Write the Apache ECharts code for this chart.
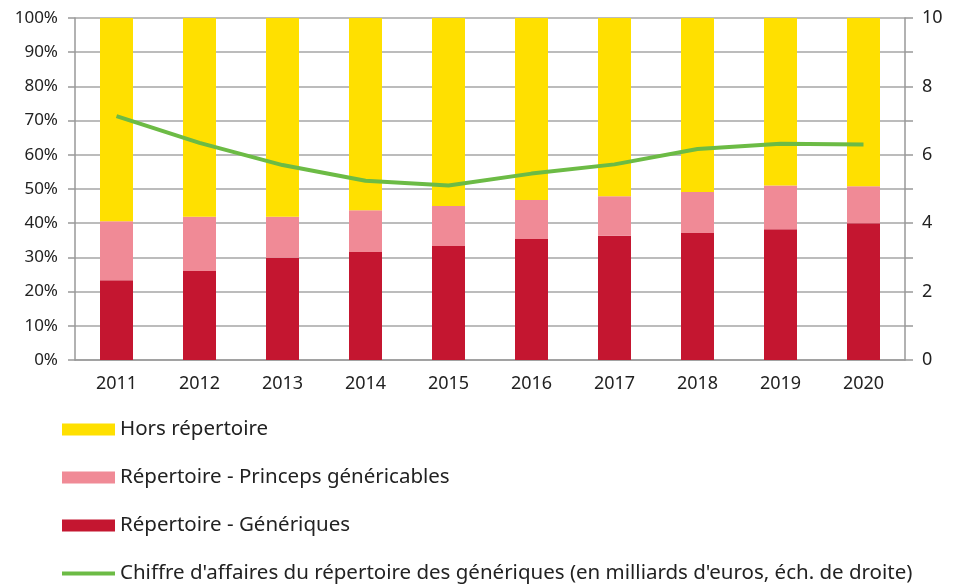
<!DOCTYPE html>
<html>
<head>
<meta charset="utf-8">
<script src="https://cdn.jsdelivr.net/npm/echarts@6/dist/echarts.min.js"></script>
<style>
  html, body { margin: 0; padding: 0; background: #fff; }
  #chart { width: 953px; height: 585px; }
</style>
</head>
<body>
<div id="chart"></div>
<script>
var years = ['2011', '2012', '2013', '2014', '2015', '2016', '2017', '2018', '2019', '2020'];
// parts en % du marché
var generiques = [23.3, 26.0, 29.9, 31.6, 33.3, 35.4, 36.3, 37.1, 38.2, 40.0];
var princeps = [17.3, 15.9, 12.0, 12.2, 11.7, 11.4, 11.6, 12.0, 12.8, 10.8];
var hors = [59.4, 58.1, 58.1, 56.2, 55.0, 53.2, 52.1, 50.9, 49.0, 49.2];
// milliards d'euros (échelle de droite)
var chiffre = [7.13, 6.35, 5.70, 5.24, 5.10, 5.45, 5.72, 6.17, 6.32, 6.30];

var names = [
    'Hors répertoire',
    'Répertoire - Princeps généricables',
    'Répertoire - Génériques',
    "Chiffre d'affaires du répertoire des génériques (en milliards d'euros, éch. de droite)"
];

var chart = echarts.init(document.getElementById('chart'));
var axisColor = '#999999';
var font = 'Noto Sans';
// trait vert de la légende : bande de 4px dans une boîte de 53x12
var lineIcon = 'path://M0,0L53,0M0,12L53,12M0,4L53,4L53,8L0,8Z';

var option = {
    animation: false,
    grid: { left: 75, right: 48, top: 18, bottom: 225 },
    legend: {
        orient: 'vertical',
        left: 62,
        top: 419,
        padding: 0,
        itemWidth: 53,
        itemHeight: 12,
        itemGap: 27,
        textStyle: { color: '#222', fontSize: 20.5, lineHeight: 20, fontFamily: font },
        data: [
            { name: names[0], icon: 'rect' },
            { name: names[1], icon: 'rect' },
            { name: names[2], icon: 'rect' },
            { name: names[3], icon: lineIcon }
        ]
    },
    xAxis: {
        type: 'category',
        data: years,
        axisLine: { lineStyle: { color: axisColor, width: 1.5 } },
        axisTick: { length: 8, lineStyle: { color: axisColor, width: 1.5 } },
        axisLabel: { margin: 15, color: '#222', fontSize: 18, fontFamily: font }
    },
    yAxis: [{
        type: 'value',
        min: 0,
        max: 100,
        interval: 10,
        axisLine: { show: true, lineStyle: { color: axisColor, width: 1.5 } },
        axisTick: { show: true, length: 7, lineStyle: { color: axisColor, width: 1.5 } },
        axisLabel: { formatter: '{value}%', margin: 17, color: '#222', fontSize: 17, fontFamily: font },
        splitLine: { lineStyle: { color: '#a6a6a6', width: 1.5 } }
    }, {
        type: 'value',
        min: 0,
        max: 10,
        interval: 1,
        position: 'right',
        axisLine: { show: true, lineStyle: { color: axisColor, width: 1.5 } },
        axisTick: { show: true, length: 8, lineStyle: { color: axisColor, width: 1.5 } },
        axisLabel: {
            margin: 17,
            color: '#222',
            fontSize: 18,
            fontFamily: font,
            formatter: function (v) { return v % 2 === 0 ? String(v) : ''; }
        },
        splitLine: { show: false }
    }],
    series: [{
        name: names[2],
        type: 'bar',
        stack: 'parts',
        barWidth: 33,
        data: generiques,
        itemStyle: { color: '#c41630' }
    }, {
        name: names[1],
        type: 'bar',
        stack: 'parts',
        barWidth: 33,
        data: princeps,
        itemStyle: { color: '#f08a96' }
    }, {
        name: names[0],
        type: 'bar',
        stack: 'parts',
        barWidth: 33,
        data: hors,
        itemStyle: { color: '#ffe000' }
    }, {
        name: names[3],
        type: 'line',
        yAxisIndex: 1,
        data: chiffre,
        symbol: 'none',
        lineStyle: { color: '#6cbb45', width: 4 },
        itemStyle: { color: '#6cbb45' }
    }]
};

chart.setOption(option);
</script>
</body>
</html>
